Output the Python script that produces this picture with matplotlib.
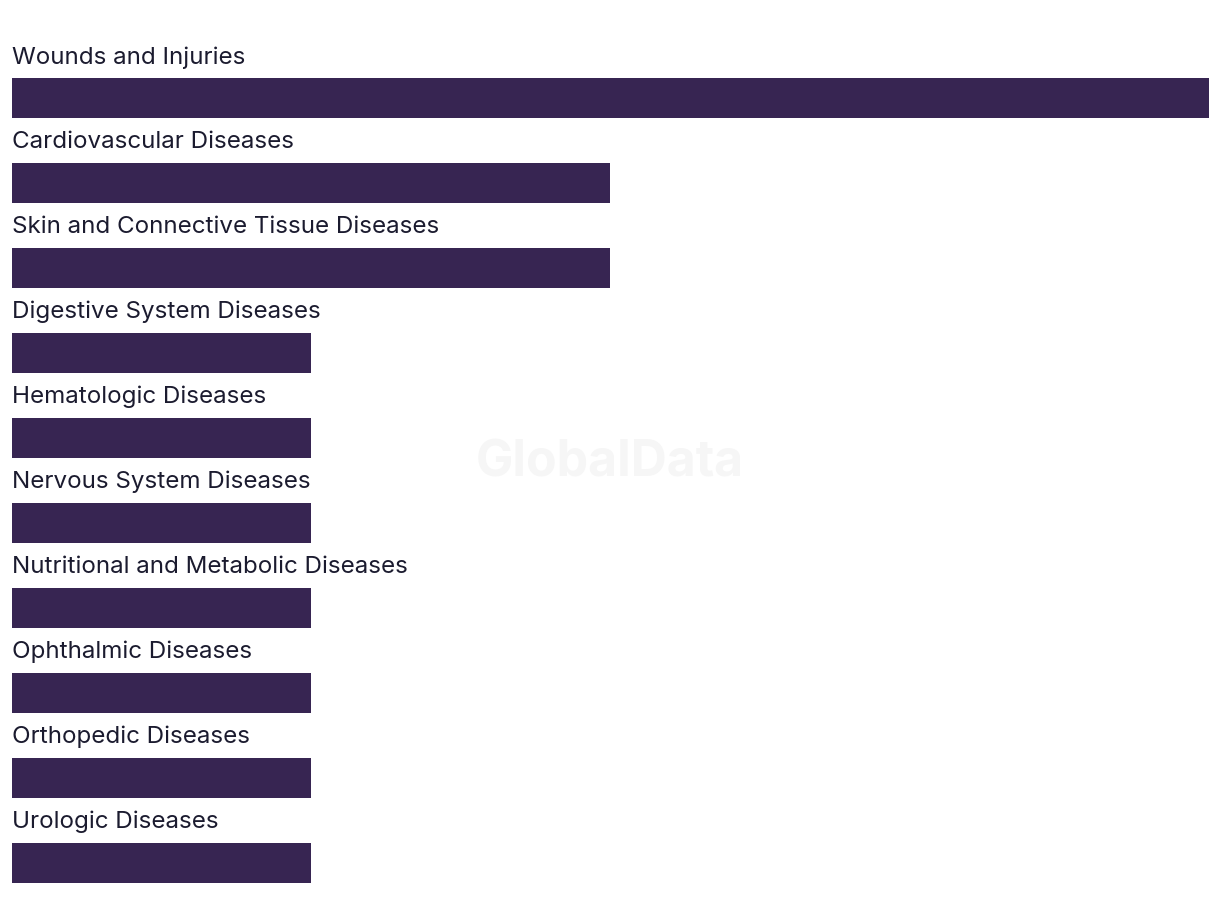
import matplotlib.pyplot as plt

categories = [
    'Wounds and Injuries',
    'Cardiovascular Diseases',
    'Skin and Connective Tissue Diseases',
    'Digestive System Diseases',
    'Hematologic Diseases',
    'Nervous System Diseases',
    'Nutritional and Metabolic Diseases',
    'Ophthalmic Diseases',
    'Orthopedic Diseases',
    'Urologic Diseases',
]
values = [4, 2, 2, 1, 1, 1, 1, 1, 1, 1]

BAR_COLOR = '#372552'
TEXT_COLOR = '#1b1b2f'

fig = plt.figure(figsize=(12.2, 9.24), dpi=100)
W, H = 1220, 924
left, right = 12, 1208.5
top, bottom = 13.5, 905
ax = fig.add_axes([left / W, (H - bottom) / H, (right - left) / W, (bottom - top) / H])

pos = list(range(len(categories)))
ax.barh(pos, values, height=0.471, color=BAR_COLOR)
ax.set_xlim(0, 4)
ax.set_ylim(9.5, -1)
ax.axis('off')

for i, name in enumerate(categories):
    ax.text(0, i - 0.41, name, ha='left', va='baseline', fontsize=17.4,
            family='Inter', color=TEXT_COLOR)

fig.text(610 / W, 1 - 463 / H, 'GlobalData', ha='center', va='center',
         fontsize=36, fontweight='bold', family='Inter', color='#f6f6f6')

fig.savefig('out.png', dpi=100)
